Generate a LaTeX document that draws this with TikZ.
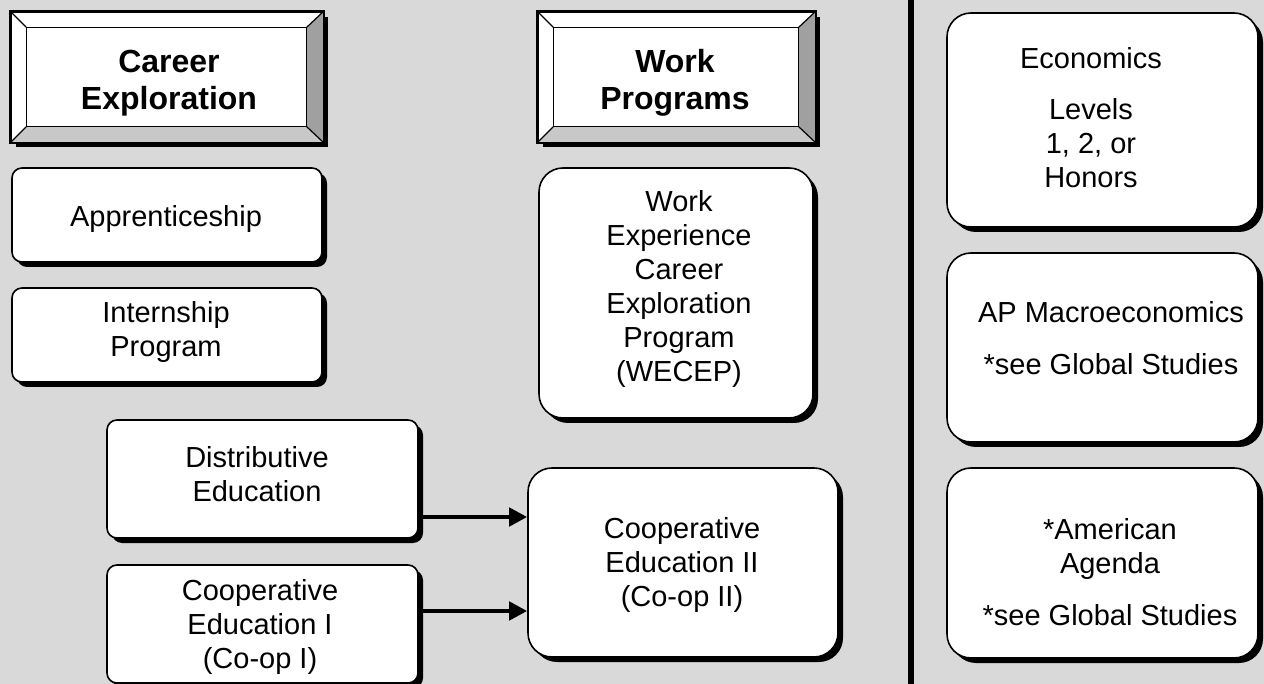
\documentclass[tikz,border=0pt]{standalone}
\usepackage{fontspec}
\setmainfont{Liberation Sans}
\usetikzlibrary{arrows.meta,shadows,calc}
\definecolor{bg}{RGB}{217,217,217}
\definecolor{bevR}{RGB}{160,160,160}
\definecolor{bevB}{RGB}{200,200,200}
\tikzset{
  rbox/.style={draw=black, line width=1.6pt, fill=white, inner sep=0pt,
    drop shadow={shadow xshift=5pt, shadow yshift=-5pt, fill=black, opacity=1}},
  smallbox/.style={rbox, rounded corners=10pt},
  bigbox/.style={rbox, rounded corners=24pt},
  bevelbox/.style={draw=black, line width=1.6pt, fill=white, inner sep=0pt,
    drop shadow={shadow xshift=5pt, shadow yshift=-5pt, fill=black, opacity=1}},
  txt/.style={align=center, inner sep=0pt, font=\fontsize{29}{34}\selectfont},
  btxt/.style={align=center, inner sep=0pt, font=\fontsize{32}{37}\selectfont\bfseries},
  arr/.style={line width=4.5pt, -{Triangle[length=18pt,width=18pt]}},
}
\begin{document}
\begin{tikzpicture}[x=1pt,y=-1pt]
\useasboundingbox (0,0) rectangle (1264,684);
\fill[bg] (0,0) rectangle (1264,684);
% divider
\draw[line width=6pt] (911,-5) -- (911,690);

% bevel header boxes
\node[bevelbox, minimum width=312pt, minimum height=130pt] (cex) at (167,77) {};
\node[bevelbox, minimum width=277pt, minimum height=130pt] (wp) at (676.5,77) {};
\foreach \b in {cex,wp}{
  \coordinate (\b-inw) at ($(\b.north west)+(16,16)$);
  \coordinate (\b-ine) at ($(\b.north east)+(-17,16)$);
  \coordinate (\b-isw) at ($(\b.south west)+(16,-16)$);
  \coordinate (\b-ise) at ($(\b.south east)+(-17,-16)$);
  \fill[bevR] (\b.north east) -- (\b.south east) -- (\b-ise) -- (\b-ine) -- cycle;
  \fill[bevB] (\b.south west) -- (\b.south east) -- (\b-ise) -- (\b-isw) -- cycle;
  \draw[line width=1.2pt] (\b-inw) rectangle (\b-ise);
  \draw[line width=1.2pt] (\b.north west) -- (\b-inw) (\b.north east) -- (\b-ine)
    (\b.south west) -- (\b-isw) (\b.south east) -- (\b-ise);
  \draw[line width=1.6pt] (\b.north west) rectangle (\b.south east);
}
% (anchor=base is the baseline of the last line)
\node[btxt, anchor=base] (cext) at (169,110) {Career\\Exploration};
\node[btxt, anchor=base] (wpt) at (675,110) {Work\\Programs};

% left column boxes
\node[smallbox, minimum width=310pt, minimum height=94pt] (app) at (167,215) {};
\node[smallbox, minimum width=310pt, minimum height=94pt] (int) at (167,335) {};
\node[smallbox, minimum width=311pt, minimum height=118pt] (dist) at (262.5,479) {};
\node[smallbox, minimum width=311pt, minimum height=118pt] (coopa) at (262.5,624) {};
\node[bigbox, minimum width=274pt, minimum height=250pt] (wecep) at (676,293) {};
\node[bigbox, minimum width=310pt, minimum height=189pt] (coopb) at (683,562.5) {};

\node[txt, anchor=base] (appt) at (166,227) {Apprenticeship};
\node[txt, anchor=base] (intt) at (166,357) {Internship\\Program};
\node[txt, anchor=base] (distt) at (257,501) {Distributive\\Education};
\node[txt, anchor=base] (coopat) at (260,668) {Cooperative\\Education I\\(Co-op I)};
\node[txt, anchor=base] (wecept) at (679,382) {Work\\Experience\\Career\\Exploration\\Program\\(WECEP)};
\node[txt, anchor=base] (coopbt) at (682,606) {Cooperative\\Education II\\(Co-op II)};

% arrows
\coordinate (a1) at ([yshift=-38pt]dist.east);
\coordinate (a2) at ([yshift=13pt]coopa.east);
\draw[arr] (a1) -- (a1 -| coopb.west);
\draw[arr] (a2) -- (a2 -| coopb.west);

% right column
\node[bigbox, minimum width=311pt, minimum height=214pt] (econ) at (1102.5,120) {};
\node[bigbox, minimum width=311pt, minimum height=189pt] (apm) at (1102.5,347.5) {};
\node[bigbox, minimum width=311pt, minimum height=190pt] (amag) at (1102.5,563) {};
\node[txt, anchor=base] (econt) at (1091,188) {Economics\\[17pt]Levels\\1, 2, or\\Honors};
\node[txt, anchor=base] (apmt) at (1111,375) {AP Macroeconomics\\[18pt]*see Global Studies};
\node[txt, anchor=base] (amagt) at (1110,625) {*American\\Agenda\\[18pt]*see Global Studies};
\end{tikzpicture}
\end{document}
